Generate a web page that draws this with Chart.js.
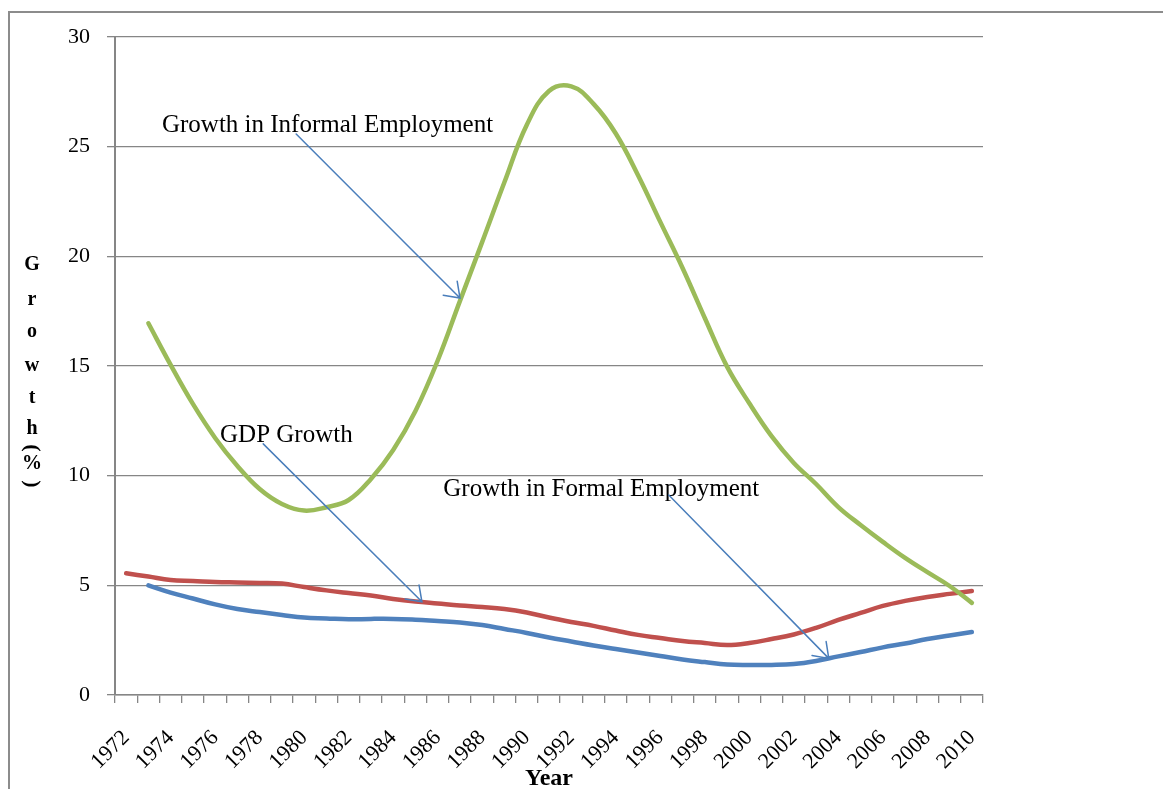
<!DOCTYPE html>
<html>
<head>
<meta charset="utf-8">
<title>Growth (%)</title>
<script src="https://cdn.jsdelivr.net/npm/chart.js@4.4.0/dist/chart.umd.min.js"></script>
<style>
  html, body { margin: 0; padding: 0; background: #ffffff; overflow: hidden; }
  #wrap { position: relative; width: 1163px; height: 789px; }
  #frame { position: absolute; left: 8px; top: 11px; width: 1220px; height: 820px;
           border: 2px solid #8c8c8c; box-sizing: border-box; }
  canvas { position: absolute; left: 0; top: 0; }
</style>
</head>
<body>
<div id="wrap">
  <div id="frame"></div>
  <canvas id="chart" width="1163" height="789"></canvas>
</div>
<script>
// Years on the category axis
const years = [1972, 1973, 1974, 1975, 1976, 1977, 1978, 1979, 1980, 1981,
               1982, 1983, 1984, 1985, 1986, 1987, 1988, 1989, 1990, 1991,
               1992, 1993, 1994, 1995, 1996, 1997, 1998, 1999, 2000, 2001,
               2002, 2003, 2004, 2005, 2006, 2007, 2008, 2009, 2010];

// Growth in informal employment (%)
const informalGrowth = [null, 16.95, 15.05, 13.27, 11.72, 10.44, 9.39, 8.71, 8.41, 8.56,
                        8.89, 9.85, 11.17, 12.95, 15.25, 17.97, 20.66, 23.39, 25.99, 27.54,
                        27.75, 26.95, 25.6, 23.7, 21.57, 19.47, 17.19, 14.97, 13.3, 11.8,
                        10.58, 9.62, 8.57, 7.75, 6.98, 6.25, 5.6, 4.97, 4.2];

// GDP growth (%)
const gdpGrowth = [5.55, 5.4, 5.24, 5.2, 5.15, 5.13, 5.11, 5.08, 4.92, 4.77,
                   4.65, 4.54, 4.38, 4.26, 4.17, 4.08, 4.01, 3.92, 3.76, 3.53,
                   3.33, 3.15, 2.94, 2.74, 2.6, 2.46, 2.37, 2.28, 2.37, 2.55,
                   2.76, 3.06, 3.42, 3.74, 4.06, 4.29, 4.47, 4.61, 4.74];

// Growth in formal employment (%)
const formalGrowth = [null, 5.0, 4.67, 4.4, 4.13, 3.92, 3.78, 3.65, 3.53, 3.49,
                      3.45, 3.47, 3.47, 3.43, 3.37, 3.31, 3.19, 3.01, 2.83, 2.62,
                      2.44, 2.26, 2.1, 1.94, 1.78, 1.62, 1.5, 1.39, 1.37, 1.37,
                      1.41, 1.55, 1.76, 1.96, 2.17, 2.35, 2.55, 2.71, 2.87];

// Value-axis ticks
const yTicks = [0, 5, 10, 15, 20, 25, 30];

// Callout labels with leader arrows, placed in (year, value) coordinates
const callouts = [
  { text: 'Growth in Informal Employment', at: [1973.61, 25.69], from: [1979.64, 25.58], to: [1987.0, 18.1] },
  { text: 'GDP Growth',                    at: [1976.22, 11.55], from: [1978.16, 11.45], to: [1985.29, 4.25] },
  { text: 'Growth in Formal Employment',   at: [1986.25, 9.07],  from: [1996.38, 9.12],  to: [2003.57, 1.67] }
];

const SERIF = '"Liberation Serif", "Times New Roman", Times, serif';
const GRID = '#868686';

// Callout text and arrows
const calloutPlugin = {
  id: 'callouts',
  afterDatasetsDraw(chart) {
    const { ctx, scales: { x, y } } = chart;
    const px = yr => x.getPixelForValue(yr - years[0]);
    ctx.save();
    ctx.font = '25px ' + SERIF;
    ctx.fillStyle = '#000000';
    ctx.textAlign = 'left';
    ctx.textBaseline = 'alphabetic';
    callouts.forEach(c => {
      ctx.fillText(c.text, px(c.at[0]), y.getPixelForValue(c.at[1]));
      const x0 = px(c.from[0]), y0 = y.getPixelForValue(c.from[1]);
      const x1 = px(c.to[0]),   y1 = y.getPixelForValue(c.to[1]);
      ctx.strokeStyle = '#4a7ebb';
      ctx.lineWidth = 1.5;
      ctx.lineCap = 'round';
      ctx.beginPath();
      ctx.moveTo(x0, y0);
      ctx.lineTo(x1, y1);
      const ang = Math.atan2(y1 - y0, x1 - x0);
      const len = 17, spread = 0.62;
      ctx.moveTo(x1 - len * Math.cos(ang - spread), y1 - len * Math.sin(ang - spread));
      ctx.lineTo(x1, y1);
      ctx.lineTo(x1 - len * Math.cos(ang + spread), y1 - len * Math.sin(ang + spread));
      ctx.stroke();
    });
    ctx.restore();
  }
};

// Axis titles: stacked vertical "Growth (%)" and "Year"
const axisTitlePlugin = {
  id: 'axisTitles',
  afterDraw(chart) {
    const { ctx, chartArea } = chart;
    ctx.save();
    ctx.fillStyle = '#000000';
    ctx.textAlign = 'center';
    ctx.textBaseline = 'middle';
    const cx = 32;
    const mid = (chartArea.top + chartArea.bottom) / 2;
    // each character sits on its own line; the brackets are turned a quarter turn
    const stack = [
      ['G', -101], ['r', -66], ['o', -34], ['w', 0], ['t', 32], ['h', 63],
      ['(', 82, true], ['%', 98], [')', 118, true]
    ];
    stack.forEach(([ch, dy, turn]) => {
      ctx.save();
      ctx.translate(cx, mid + dy);
      if (turn) {
        ctx.rotate(Math.PI / 2);
        ctx.font = 'bold 22px ' + SERIF;
      } else {
        ctx.font = 'bold 20px ' + SERIF;
      }
      ctx.fillText(ch, 0, 0);
      ctx.restore();
    });
    ctx.font = 'bold 24px ' + SERIF;
    ctx.textBaseline = 'alphabetic';
    ctx.fillText('Year', (chartArea.left + chartArea.right) / 2, 785);
    ctx.restore();
  }
};

new Chart(document.getElementById('chart'), {
  type: 'line',
  data: {
    labels: years.map(String),
    datasets: [
      { label: 'Growth in Informal Employment', data: informalGrowth, borderColor: '#9bbb59' },
      { label: 'GDP Growth', data: gdpGrowth, borderColor: '#c0504d' },
      { label: 'Growth in Formal Employment', data: formalGrowth, borderColor: '#4f81bd' }
    ]
  },
  options: {
    responsive: false,
    animation: false,
    devicePixelRatio: 1,
    layout: { padding: { left: 0, top: 37, right: 180, bottom: 0 } },
    elements: {
      line: { borderWidth: 4.5, tension: 0.4, borderCapStyle: 'round', borderJoinStyle: 'round', fill: false },
      point: { radius: 0, hoverRadius: 0 }
    },
    plugins: {
      legend: { display: false },
      tooltip: { enabled: false },
      title: { display: false }
    },
    scales: {
      x: {
        type: 'category',
        offset: true,
        afterFit(scale) { scale.height = 94; },
        grid: { display: true, drawOnChartArea: false, drawTicks: true, tickLength: 8,
                offset: true, color: GRID, lineWidth: 1.3 },
        border: { display: true, color: GRID, width: 1.5 },
        ticks: {
          autoSkip: false, maxRotation: 45, minRotation: 45, padding: 22,
          color: '#000000', font: { family: SERIF, size: 22 },
          callback(value, index) { return years[index] % 2 === 0 ? String(years[index]) : ''; }
        }
      },
      y: {
        min: 0, max: 30,
        afterFit(scale) { scale.width = 115; },
        afterBuildTicks(scale) { scale.ticks = yTicks.map(v => ({ value: v })); },
        grid: { color: GRID, lineWidth: 1.3, drawTicks: true, tickLength: 8 },
        border: { display: true, color: GRID, width: 2 },
        ticks: { padding: 17, color: '#000000', font: { family: SERIF, size: 22 } }
      }
    }
  },
  plugins: [calloutPlugin, axisTitlePlugin]
});
</script>
</body>
</html>
